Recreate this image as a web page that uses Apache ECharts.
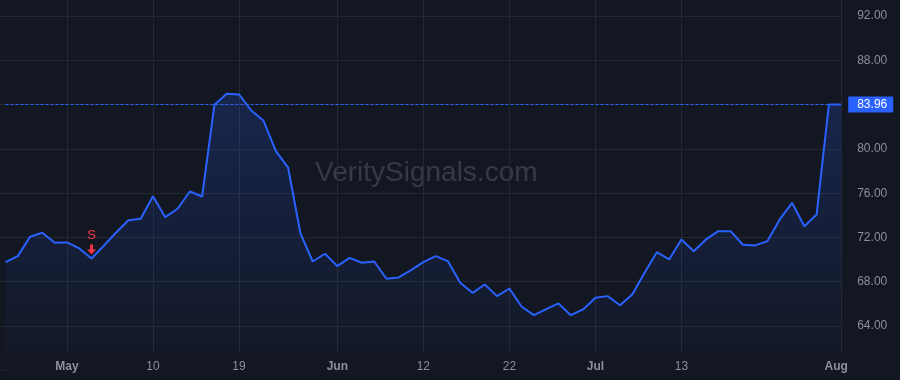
<!DOCTYPE html>
<html>
<head>
<meta charset="utf-8">
<script src="https://cdn.jsdelivr.net/npm/echarts@6/dist/echarts.min.js"></script>
<style>
html,body{margin:0;padding:0;background:#131722;}
#chart{width:900px;height:380px;}
</style>
</head>
<body>
<div id="chart"></div>
<script>
var values = [
  69.72, 70.26, 72.01, 72.37, 71.47, 71.50, 70.96, 70.05, 71.20, 72.40,
  73.51, 73.64, 75.68, 73.78, 74.54, 76.10, 75.65, 83.94, 84.93, 84.87,
  83.42, 82.49, 79.75, 78.25, 72.31, 69.78, 70.48, 69.36, 70.11, 69.66,
  69.78, 68.22, 68.34, 69.00, 69.72, 70.26, 69.81, 67.86, 66.95, 67.70,
  66.65, 67.34, 65.69, 64.93, 65.47, 65.99, 64.93, 65.45, 66.50, 66.65,
  65.83, 66.80, 68.76, 70.62, 69.96, 71.77, 70.71, 71.77, 72.52, 72.52,
  71.29, 71.23, 71.62, 73.58, 75.08, 72.97, 74.03, 83.96, 83.96
];
var categories = values.map(function (v, i) { return 'd' + i; });
var tickIndex = [5, 12, 19, 27, 34, 41, 48, 55, 68];
var tickLabels = ['May', '10', '19', 'Jun', '12', '22', 'Jul', '13', 'Aug'];
var monthLabels = ['May', 'Jun', 'Jul', 'Aug'];
var lastValue = 83.96;
var signalIndex = 7;
var signalText = 'S';
var watermark = 'VeritySignals.com';

var FONT = '"Liberation Sans", Arial, sans-serif';
var GRID = '#242833';
var TEXT = '#8c909b';

function isTick(idx) { return tickIndex.indexOf(idx) >= 0; }

var chart = echarts.init(document.getElementById('chart'), null, {renderer: 'canvas'});
chart.setOption({
  backgroundColor: '#131722',
  animation: false,
  textStyle: {fontFamily: FONT},
  graphic: [{
    type: 'text',
    left: 315,
    top: 159,
    style: {
      text: watermark,
      fontSize: 28,
      fontFamily: FONT,
      fill: 'rgba(160,165,178,0.25)'
    },
    z: 0
  }],
  grid: [
    {left: 5.5, right: 58.8, top: 0, bottom: 28, outerBoundsMode: 'none'},
    {left: 0, right: 58.8, top: -28.2, bottom: 9.7, outerBoundsMode: 'none'}
  ],
  xAxis: [
    {
      type: 'category',
      gridIndex: 0,
      data: categories,
      boundaryGap: false,
      axisLine: {show: false},
      axisTick: {show: false},
      splitLine: {
        show: true,
        interval: function (idx) { return isTick(idx); },
        lineStyle: {color: GRID, width: 1}
      },
      axisLabel: {
        interval: function (idx) { return isTick(idx); },
        margin: 9,
        formatter: function (val, idx) {
          var k = tickIndex.indexOf(idx);
          if (k < 0) return '';
          var t = tickLabels[k];
          if (monthLabels.indexOf(t) >= 0) {
            return idx === values.length - 1 ? '{mEnd|' + t + '}' : '{m|' + t + '}';
          }
          return '{d|' + t + '}';
        },
        rich: {
          m: {fontWeight: 'bold', color: TEXT, fontSize: 12, fontFamily: FONT},
          mEnd: {fontWeight: 'bold', color: TEXT, fontSize: 12, fontFamily: FONT, padding: [0, 10, 0, 0]},
          d: {color: TEXT, fontSize: 12, fontFamily: FONT}
        }
      }
    },
    {
      type: 'value',
      gridIndex: 1,
      min: 0,
      max: 1,
      show: false
    }
  ],
  yAxis: [
    {
      type: 'value',
      gridIndex: 0,
      min: 61.602,
      max: 93.401,
      show: false,
      splitLine: {show: false}
    },
    {
      type: 'value',
      gridIndex: 1,
      position: 'right',
      min: 60,
      max: 96,
      interval: 4,
      axisLine: {show: false},
      axisTick: {show: true, length: 6, lineStyle: {color: GRID}},
      splitLine: {
        show: true,
        lineStyle: {color: ['rgba(0,0,0,0)', GRID, GRID, GRID, GRID, GRID, GRID, GRID, GRID, GRID]}
      },
      axisLabel: {
        margin: 16,
        color: TEXT,
        fontSize: 12,
        fontFamily: FONT,
        formatter: function (v) {
          if (v <= 60 || v >= 96) return '';
          return v.toFixed(2);
        }
      }
    }
  ],
  series: [{
    type: 'line',
    xAxisIndex: 0,
    yAxisIndex: 0,
    data: values,
    symbol: 'none',
    smooth: false,
    lineStyle: {color: '#2962FF', width: 2},
    itemStyle: {color: '#2962FF'},
    areaStyle: {
      origin: 'start',
      color: new echarts.graphic.LinearGradient(0, 0, 0, 1, [
        {offset: 0, color: 'rgba(41,98,255,0.28)'},
        {offset: 1, color: 'rgba(41,98,255,0.03)'}
      ])
    },
    z: 3,
    markLine: {
      silent: true,
      symbol: 'none',
      animation: false,
      lineStyle: {color: '#2962FF', width: 1, type: [3, 2], opacity: 1},
      label: {
        show: true,
        position: 'end',
        distance: 7,
        formatter: function (p) { return Number(p.value).toFixed(2); },
        backgroundColor: '#2962FF',
        color: '#ffffff',
        fontSize: 12,
        fontFamily: FONT,
        padding: [2, 6, 2, 9],
        borderRadius: 1
      },
      data: [{yAxis: lastValue}]
    },
    markPoint: {
      silent: true,
      animation: false,
      data: [{
        coord: [signalIndex, values[signalIndex]],
        symbol: 'path://M3,0 L6,0 L6,5 L9,5 L4.5,10 L0,5 L3,5 Z',
        symbolSize: [9, 10],
        symbolOffset: [0, -9],
        itemStyle: {color: '#F23645'},
        label: {
          show: true,
          position: 'top',
          distance: 3,
          formatter: signalText,
          color: '#F23645',
          fontSize: 13,
          fontFamily: FONT
        }
      }]
    }
  }]
});
</script>
</body>
</html>
